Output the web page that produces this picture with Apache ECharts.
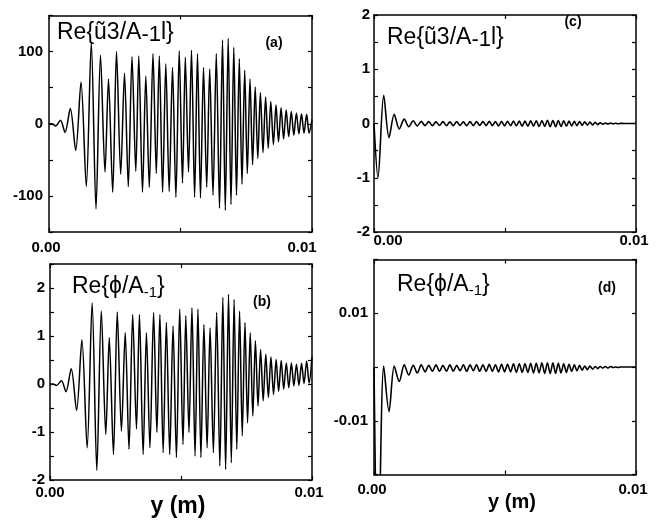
<!DOCTYPE html>
<html>
<head>
<meta charset="utf-8">
<script src="https://cdn.jsdelivr.net/npm/echarts@6/dist/echarts.min.js"></script>
<style>
  html, body { margin: 0; padding: 0; background: #fff; }
  #chart { width: 665px; height: 522px; }
</style>
</head>
<body>
<div id="chart"></div>
<script>
// Positions along y (in mm) of the successive maxima / minima of the traces.
const yMmAB = [
  0, 0.114, 0.247, 0.437, 0.608, 0.810, 1.015, 1.217, 1.418, 1.608,
  1.787, 1.958, 2.129, 2.262, 2.422, 2.567, 2.726, 2.871, 3.015, 3.156,
  3.300, 3.414, 3.555, 3.681, 3.814, 3.954, 4.080, 4.194, 4.319, 4.441,
  4.570, 4.696, 4.825, 4.951, 5.076, 5.183, 5.304, 5.418, 5.536, 5.646,
  5.760, 5.875, 5.996, 6.110, 6.236, 6.361, 6.483, 6.597, 6.703, 6.814,
  6.920, 7.027, 7.129, 7.236, 7.338, 7.441, 7.540, 7.643, 7.741, 7.840,
  7.939, 8.038, 8.137, 8.236, 8.335, 8.433, 8.532, 8.631, 8.726, 8.825,
  8.920, 9.019, 9.114, 9.213, 9.308, 9.407, 9.502, 9.601, 9.696, 9.795,
  9.890, 10.000
];
// (a) Re{u3 / A-1}
const uA = [
  0, 0, -3, 5, -12, 21, -37, 58, -87, 112,
  -118, 95, -67, 62, -95, 100, -70, 70, -87, 93,
  -66, 94, -95, 66, -88, 97, -69, 94, -95, 83,
  -94, 78, -102, 101, -82, 92, -67, 102, -102, 97,
  -103, 78, -88, 76, -99, 97, -117, 116, -120, 118,
  -112, 106, -99, 90, -84, 74, -69, 62, -57, 51,
  -48, 43, -40, 37, -34, 31, -29, 26, -25, 22,
  -21, 19, -18, 17, -16, 15, -14, 14, -13, 13,
  -13, 6
];
// (b) Re{phi / A-1}
const phiB = [
  0, 0, -0.03, 0.07, -0.16, 0.32, -0.55, 0.92, -1.33, 1.69,
  -1.8, 1.52, -1.05, 0.97, -1.47, 1.5, -0.98, 1.07, -1.36, 1.45,
  -0.94, 1.45, -1.47, 1.07, -1.33, 1.49, -1.01, 1.45, -1.43, 1.28,
  -1.47, 1.21, -1.53, 1.56, -1.26, 1.42, -1.01, 1.59, -1.5, 1.56,
  -1.53, 1.24, -1.33, 1.17, -1.43, 1.49, -1.71, 1.8, -1.78, 1.87,
  -1.64, 1.76, -1.36, 1.52, -1.08, 1.28, -0.81, 1.07, -0.67, 0.9,
  -0.46, 0.72, -0.35, 0.62, -0.28, 0.56, -0.22, 0.51, -0.15, 0.49,
  -0.11, 0.44, -0.08, 0.44, -0.04, 0.41, -0.03, 0.43, 0.01, 0.48,
  0.02, 0.57
];

const yMmCD = [
  0, 0.153, 0.371, 0.573, 0.772, 0.963, 1.154, 1.326, 1.498, 1.651,
  1.804, 1.949, 2.090, 2.228, 2.365, 2.499, 2.633, 2.767, 2.896, 3.026,
  3.156, 3.286, 3.412, 3.538, 3.665, 3.791, 3.913, 4.035, 4.157, 4.280,
  4.398, 4.517, 4.635, 4.754, 4.868, 4.983, 5.097, 5.212, 5.323, 5.434,
  5.545, 5.655, 5.762, 5.873, 5.980, 6.087, 6.194, 6.301, 6.408, 6.515,
  6.618, 6.725, 6.828, 6.932, 7.035, 7.138, 7.241, 7.344, 7.444, 7.547,
  7.646, 7.746, 7.845, 7.944, 8.044, 8.143, 8.242, 8.342, 8.441, 8.540,
  8.636, 8.735, 8.831, 8.930, 9.026, 9.125, 9.221, 9.320, 9.415, 9.542,
  9.771, 10.000
];
// (c) Re{u3 / A-1}
const uC = [
  0, -1.0, 0.52, -0.26, 0.17, -0.10, 0.08, -0.06, 0.05, -0.045,
  0.04, -0.04, 0.035, -0.04, 0.03, -0.035, 0.035, -0.04, 0.03, -0.04,
  0.035, -0.035, 0.03, -0.04, 0.035, -0.04, 0.035, -0.035, 0.035, -0.04,
  0.04, -0.04, 0.035, -0.045, 0.04, -0.045, 0.04, -0.04, 0.045, -0.045,
  0.045, -0.05, 0.045, -0.05, 0.05, -0.05, 0.05, -0.055, 0.055, -0.055,
  0.06, -0.06, 0.055, -0.06, 0.055, -0.055, 0.05, -0.05, 0.045, -0.045,
  0.04, -0.04, 0.035, -0.035, 0.03, -0.03, 0.025, -0.025, 0.02, -0.02,
  0.015, -0.015, 0.01, -0.01, 0.008, -0.006, 0.005, -0.004, 0.003, 0,
  0, 0
];
// (d) Re{phi / A-1}
const phiD = [
  0, -0.04, 0.0002, -0.0083, 0.0002, -0.0027, 0.0004, -0.0015, 0.0003, -0.0011,
  0.0004, -0.0009, 0.0003, -0.0008, 0.0004, -0.0008, 0.0003, -0.0008, 0.0004, -0.0008,
  0.0003, -0.0007, 0.0004, -0.0008, 0.0004, -0.0007, 0.0004, -0.0008, 0.0004, -0.0008,
  0.0005, -0.0008, 0.0004, -0.0009, 0.0005, -0.0009, 0.0005, -0.0009, 0.0006, -0.0010,
  0.0006, -0.0010, 0.0006, -0.0010, 0.0007, -0.0011, 0.0007, -0.0011, 0.0008, -0.0012,
  0.0008, -0.0012, 0.0008, -0.0012, 0.0007, -0.0011, 0.0006, -0.0010, 0.0005, -0.0008,
  0.0004, -0.0007, 0.0003, -0.0006, 0.0002, -0.0005, 0.0002, -0.0004, 0.0001, -0.0003,
  0.0001, -0.0002, 0.0001, -0.0002, 0.0001, -0.0001, 0, -0.0001, 0, 0,
  0, 0
];

// Tick values that carry a label
const xTickLabels = [0, 0.01];
const yTicksA = [-100, 0, 100];
const yTicksB = [-2, -1, 0, 1, 2];
const yTicksC = [-2, -1, 0, 1, 2];
const yTicksD = [-0.01, 0.01];

const FONT = '"Liberation Sans", Arial, Helvetica, sans-serif';
const BLACK = '#000';

const chart = echarts.init(document.getElementById('chart'), null, { renderer: 'canvas' });

const grids = [
  { left: 49,  top: 15.5,  width: 263, height: 216.5 }, // (a)
  { left: 50,  top: 264,   width: 262, height: 216 },   // (b)
  { left: 374, top: 15,    width: 262, height: 217 },   // (c)
  { left: 374, top: 259.5, width: 262, height: 215 }    // (d)
];

const lineStyle = { color: BLACK, width: 1.5 };
const tickStyle = { show: true, inside: true, length: 4, lineStyle: { color: BLACK, width: 1.2 } };
const labelFont = { color: BLACK, fontFamily: FONT, fontWeight: 'bold', fontSize: 15 };

function near(list, v) {
  return list.some(t => Math.abs(t - v) < 1e-9);
}

// Bottom + top x axes of one panel; the shifts nudge the two end labels sideways.
function xAxesFor(gi, margin, firstShift, lastShift) {
  const pad = s => s >= 0 ? [0, 0, 0, 2 * s] : [0, -2 * s, 0, 0];
  const base = {
    type: 'value', gridIndex: gi, min: 0, max: 0.01, interval: 0.005,
    axisLine: { show: true, onZero: false, lineStyle },
    axisTick: tickStyle,
    splitLine: { show: false }
  };
  return [
    Object.assign({}, base, {
      position: 'bottom',
      axisLabel: Object.assign({}, labelFont, {
        margin,
        formatter: v => {
          if (!near(xTickLabels, v)) return '';
          return v < 0.005 ? '{f|' + v.toFixed(2) + '}' : '{l|' + v.toFixed(2) + '}';
        },
        rich: {
          f: Object.assign({}, labelFont, { padding: pad(firstShift) }),
          l: Object.assign({}, labelFont, { padding: pad(lastShift) })
        }
      })
    }),
    Object.assign({}, base, { position: 'top', axisLabel: { show: false } })
  ];
}

// Left + right y axes of one panel
function yAxesFor(gi, min, max, interval, ticks, fmt, margin) {
  const base = {
    type: 'value', gridIndex: gi, min, max, interval,
    axisLine: { show: true, onZero: false, lineStyle },
    axisTick: tickStyle,
    splitLine: { show: false }
  };
  return [
    Object.assign({}, base, {
      position: 'left',
      axisLabel: Object.assign({}, labelFont, {
        margin,
        formatter: v => near(ticks, v) ? fmt(v) : ''
      })
    }),
    Object.assign({}, base, { position: 'right', axisLabel: { show: false } })
  ];
}

const intFmt = v => String(Math.round(v));

const xAxis = [].concat(
  xAxesFor(0, 8, -3, -10),
  xAxesFor(1, 5, 0, -3),
  xAxesFor(2, 1, 14, -2),
  xAxesFor(3, 8, -2, -3)
);
const yAxis = [].concat(
  yAxesFor(0, -150, 150, 50, yTicksA, intFmt, 6),
  yAxesFor(1, -2, 2.5, 0.5, yTicksB, intFmt, 5),
  yAxesFor(2, -2, 2, 0.5, yTicksC, intFmt, 4),
  yAxesFor(3, -0.02, 0.02, 0.01, yTicksD, v => v.toFixed(2), 6)
);

function trace(axisIdx, mm, values, width) {
  return {
    type: 'line',
    xAxisIndex: axisIdx,
    yAxisIndex: axisIdx,
    data: mm.map((m, i) => [m / 1000, values[i]]),
    symbol: 'none',
    showSymbol: false,
    smooth: 0.3,
    clip: true,
    silent: true,
    lineStyle: { color: BLACK, width }
  };
}

const titleRich = {
  s: { fontFamily: FONT, fontSize: 15, lineHeight: 15, verticalAlign: 'bottom', fill: BLACK },
  m: { fontFamily: FONT, fontSize: 22, lineHeight: 24, verticalAlign: 'bottom', fill: BLACK }
};

function panelTitle(x, y, text) {
  return {
    type: 'text', x, y, silent: true,
    style: {
      text, fill: BLACK, fontFamily: FONT, fontSize: 23, lineHeight: 26,
      align: 'left', verticalAlign: 'top', rich: titleRich
    }
  };
}
function panelTag(x, y, text) {
  return {
    type: 'text', x, y, silent: true,
    style: { text, fill: BLACK, fontFamily: FONT, fontSize: 14, fontWeight: 'bold', align: 'center', verticalAlign: 'middle' }
  };
}
function axisName(x, y, size) {
  return {
    type: 'text', x, y, silent: true,
    style: { text: 'y (m)', fill: BLACK, fontFamily: FONT, fontSize: size, fontWeight: 'bold', align: 'center', verticalAlign: 'middle' }
  };
}

const option = {
  backgroundColor: '#fff',
  animation: false,
  grid: grids,
  xAxis,
  yAxis,
  series: [
    trace(0, yMmAB, uA, 1.5),
    trace(2, yMmAB, phiB, 1.5),
    trace(4, yMmCD, uC, 1.6),
    trace(6, yMmCD, phiD, 1.6)
  ],
  graphic: [
    panelTitle(57, 20, 'Re{\u0169' + '3/A{m|-1}l}'),
    panelTitle(72, 274, 'Re{\u03d5/A{s|-1}}'),
    panelTitle(387, 25, 'Re{\u0169' + '3/A{m|-1}l}'),
    panelTitle(397, 272, 'Re{\u03d5/A{s|-1}}'),
    panelTag(274, 43, '(a)'),
    panelTag(262, 302, '(b)'),
    panelTag(573, 22, '(c)'),
    panelTag(607, 288, '(d)'),
    axisName(178, 507, 23),
    axisName(512, 502, 20)
  ]
};

chart.setOption(option);
</script>
</body>
</html>
